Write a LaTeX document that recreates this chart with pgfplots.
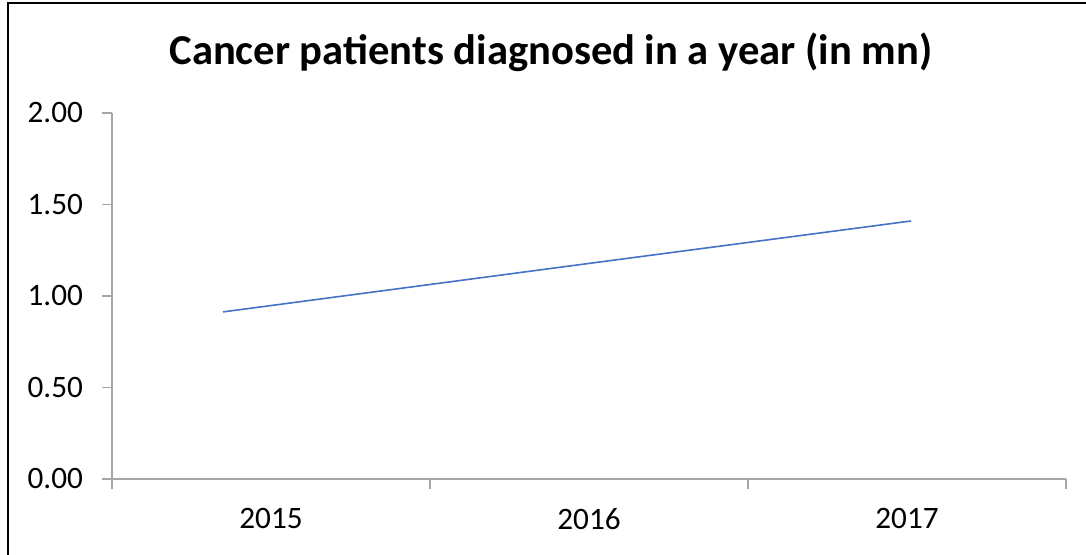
\documentclass[border=0pt]{standalone}
\usepackage{pgfplots}
\pgfplotsset{compat=1.18}
\usepackage{fontspec}
\setmainfont{Carlito}
\definecolor{exblue}{HTML}{4472C4}
\definecolor{axgray}{HTML}{A6A6A6}
\begin{document}
\begin{tikzpicture}
\path[use as bounding box] (0pt,0pt) rectangle (543pt,277.5pt);
\draw[line width=1.4pt, black] (4pt,-2pt) -- (4pt,276pt) -- (546pt,276pt);
\node[font=\fontsize{21.3}{25}\selectfont\bfseries, anchor=center] at (275.5pt,251.5pt) {Cancer patients diagnosed in a year (in mn)};
\begin{axis}[
  scale only axis,
  width=477pt, height=183pt,
  at={(56pt,38pt)}, anchor=south west,
  xmin=-0.5, xmax=2.5,
  ymin=0, ymax=2,
  axis x line*=bottom, axis y line*=left,
  axis line style={axgray, line width=0.6pt, -},
  tick style={axgray, line width=0.6pt},
  tick align=outside,
  major tick length=5pt,
  xtick={-0.5,0.5,1.5,2.5},
  xticklabels={2015,2016,2017},
  x tick label as interval,
  ytick={0,0.5,1,1.5,2},
  yticklabel style={/pgf/number format/fixed, /pgf/number format/fixed zerofill, /pgf/number format/precision=2},
  /pgf/number format/assume math mode=true,
  tick label style={font=\fontsize{15.6}{18}\selectfont, black},
  xticklabel style={yshift=-6pt},
  yticklabel style={xshift=-6pt},
  clip=false,
]
\addplot[exblue, line width=0.8pt, no markers] coordinates {
  (-0.151,0.913) (1,1.178) (2.013,1.41)
};
\end{axis}
\end{tikzpicture}
\end{document}
